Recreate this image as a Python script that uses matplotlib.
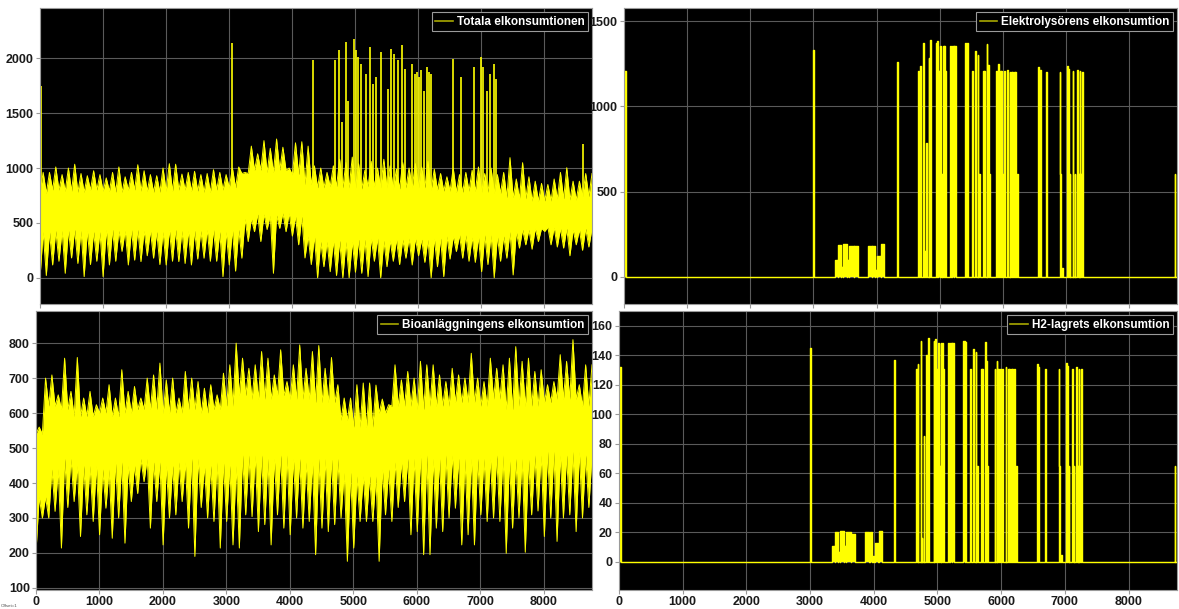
import numpy as np
import matplotlib.pyplot as plt
from matplotlib.lines import Line2D

plt.rcParams['font.family'] = ['Liberation Sans', 'DejaVu Sans']
plt.rcParams['font.weight'] = 'bold'

YEL = '#ffff00'
T_END = 8760

# --- Totala elkonsumtionen: per 100 h envelope, dense core (per 200 h), isolated peaks
tot_max = [960, 960, 1010, 940, 1000, 1035, 950, 930, 975, 940,
           910, 960, 1010, 920, 960, 1030, 975, 940, 930, 1000,
           1040, 1035, 945, 960, 970, 940, 950, 985, 960, 940,
           1000, 1010, 960, 1200, 1130, 1250, 1180, 1265, 1190, 1000,
           1230, 1240, 1200, 1020, 1000, 960, 1020, 1080, 1050, 1100,
           1040, 980, 1060, 1000, 1080, 1020, 990, 1050, 1000, 1040,
           1010, 1060, 990, 950, 920, 1000, 940, 960, 980, 1010,
           950, 1000, 940, 960, 1095, 900, 1049, 920, 880, 860,
           850, 900, 960, 1003, 880, 880, 950, 950]
tot_min = [0, 20, 116, 150, 40, 180, 130, 10, 120, 150,
           10, 116, 150, 240, 116, 160, 147, 200, 178, 120,
           116, 150, 147, 130, 116, 170, 178, 150, 150, 10,
           116, 60, 178, 330, 420, 330, 440, 40, 450, 420,
           380, 300, 180, 120, 0, 100, 55, 20, 0, 0,
           50, 40, 10, 150, 0, 100, 150, 120, 178, 116,
           200, 140, 0, 100, 10, 170, 239, 178, 150, 140,
           55, 120, 0, 150, 178, 25, 270, 300, 260, 330,
           422, 300, 280, 270, 200, 300, 250, 280]
tot_core_lo = [420, 430, 440, 430, 420, 440, 430, 440, 430, 420, 440,
               430, 430, 440, 420, 440, 540, 580, 570, 590, 560, 380,
               330, 340, 330, 350, 360, 340, 350, 360, 350, 360, 380,
               390, 370, 390, 380, 420, 440, 450, 460, 450, 440, 450]
tot_core_hi = [770, 800, 790, 780, 800, 790, 780, 800, 790, 780, 790,
               800, 790, 780, 800, 820, 950, 980, 960, 980, 940, 850,
               820, 830, 820, 810, 830, 820, 810, 820, 820, 800, 790,
               780, 790, 780, 770, 730, 720, 700, 700, 720, 710, 740]
tot_peak_t = [15, 3045, 4330, 4675, 4742, 4794, 4852, 4889, 4978, 5020,
              5046, 5088, 5177, 5230, 5282, 5335, 5413, 5518, 5571, 5613,
              5687, 5739, 5797, 5902, 5949, 5981, 6017, 6054, 6096, 6138,
              6175, 6212, 6553, 6674, 6884, 6999, 7031, 7093, 7146, 7198,
              7240, 8616]
tot_peak_v = [1750, 2140, 1982, 1982, 2073, 1416, 2150, 1615, 2180, 2073,
              2012, 1951, 1860, 2104, 1768, 1829, 2058, 1722, 2089, 2043,
              1982, 2119, 1905, 1951, 1860, 1875, 1829, 1890, 1707, 1921,
              1875, 1860, 1998, 1829, 1921, 2012, 1921, 1707, 1860, 1951,
              1814, 1217]

# --- Bioanläggningens elkonsumtion
bio_max = [560, 700, 709, 652, 757, 662, 759, 643, 662, 624,
           643, 681, 643, 724, 662, 676, 643, 700, 709, 743,
           695, 700, 643, 719, 700, 690, 671, 681, 652, 714,
           738, 800, 757, 728, 738, 776, 757, 709, 781, 690,
           738, 795, 728, 776, 793, 728, 759, 681, 643, 643,
           681, 686, 686, 680, 640, 624, 738, 695, 719, 700,
           748, 738, 738, 709, 690, 728, 709, 700, 771, 700,
           690, 757, 728, 738, 757, 790, 748, 757, 719, 724,
           681, 690, 767, 748, 810, 681, 738, 738]
bio_min = [204, 300, 300, 319, 214, 330, 347, 247, 309, 290,
           252, 328, 242, 300, 228, 347, 370, 404, 271, 347,
           223, 300, 309, 347, 271, 190, 330, 300, 290, 214,
           290, 223, 214, 309, 304, 261, 281, 223, 309, 271,
           252, 300, 271, 290, 195, 271, 261, 281, 300, 176,
           214, 290, 290, 290, 176, 309, 290, 330, 347, 252,
           261, 195, 195, 271, 261, 300, 328, 223, 252, 223,
           309, 290, 300, 290, 199, 271, 300, 202, 309, 320,
           247, 300, 233, 300, 309, 261, 300, 330]
bio_core_lo = [360, 440, 470, 450, 450, 440, 460, 450, 470, 460, 450,
               460, 470, 450, 460, 450, 480, 480, 470, 480, 470, 460,
               470, 470, 430, 420, 420, 440, 460, 470, 480, 470, 480,
               470, 470, 470, 480, 470, 470, 480, 490, 480, 490, 480]
bio_core_hi = [540, 620, 610, 590, 590, 600, 590, 600, 610, 610, 600,
               600, 610, 600, 610, 620, 650, 640, 640, 650, 640, 640,
               630, 630, 580, 560, 560, 600, 620, 620, 610, 620, 620,
               630, 630, 620, 640, 610, 620, 620, 630, 640, 640, 620]

# --- Elektrolysören / H2-lager: run periods (h) with their levels
run_start = [0, 3000,
             3345, 3390, 3445, 3475, 3535, 3570, 3645,
             3860, 3935, 3980, 4015, 4075,
             4325,
             4665, 4688, 4735, 4750, 4783, 4825, 4846,
             4940, 4955, 4978, 5003, 5030, 5050, 5065, 5090,
             5160, 5182, 5200, 5230,
             5405, 5430, 5515, 5560, 5600, 5620,
             5685, 5705, 5745, 5762, 5780,
             5895, 5930, 5950, 5975, 5995, 6015, 6070,
             6108, 6128, 6150, 6175, 6200, 6225,
             6558, 6585, 6690, 6900, 6912, 6940,
             7018, 7040, 7058, 7112, 7140,
             7182, 7200, 7218, 7240, 7260,
             8728]
run_end = [25, 3012,
           3385, 3440, 3470, 3530, 3565, 3640, 3710,
           3930, 3975, 4010, 4070, 4125,
           4337,
           4680, 4698, 4747, 4762, 4793, 4838, 4860,
           4952, 4975, 4998, 5028, 5045, 5062, 5080, 5106,
           5178, 5195, 5225, 5254,
           5425, 5450, 5522, 5575, 5612, 5635,
           5700, 5720, 5757, 5775, 5794,
           5910, 5942, 5965, 5990, 6010, 6030, 6080,
           6120, 6140, 6165, 6190, 6215, 6245,
           6570, 6598, 6698, 6908, 6920, 6950,
           7028, 7050, 7066, 7120, 7148,
           7190, 7208, 7226, 7248, 7268,
           8735]
elek_level = [1210, 1330,
              100, 185, 60, 190, 100, 180, 178,
              180, 182, 40, 120, 195,
              1260,
              1206, 1235, 1373, 150, 784, 1284, 1392,
              1373, 1386, 1206, 1353, 600, 1353, 1353, 1206,
              1353, 1206, 1353, 1353,
              1373, 1370, 1206, 1324, 1304, 600,
              1206, 1206, 1367, 1245, 600,
              1206, 1249, 1206, 1206, 600, 1206, 1216,
              1202, 1202, 1202, 1202, 1202, 600,
              1230, 1216, 1202, 1202, 600, 50,
              1236, 1220, 600, 1206, 600,
              1212, 600, 1206, 600, 1202,
              600]
h2_level = [132, 145,
            11, 20, 7, 21, 11, 20, 19,
            20, 20, 4, 13, 21,
            137,
            131, 134, 150, 16, 85, 140, 152,
            150, 151, 131, 148, 65, 148, 148, 131,
            148, 131, 148, 148,
            150, 149, 131, 144, 142, 65,
            131, 131, 149, 136, 65,
            131, 136, 131, 131, 65, 131, 132,
            131, 131, 131, 131, 131, 65,
            134, 132, 131, 131, 65, 5,
            135, 133, 65, 131, 65,
            132, 65, 131, 65, 131,
            65]


def band(ax, hi, lo, core_hi, core_lo):
    # solid core with filled teeth out to each 100 h bin's max and min
    n = len(hi)
    rep = -(-n // len(core_hi))
    chi = np.repeat(core_hi, rep)[:n]
    clo = np.repeat(core_lo, rep)[:n]
    xs = np.linspace(0, T_END, 2 * n)
    upper = np.column_stack([chi, hi]).ravel()
    lower = np.column_stack([lo, clo]).ravel()
    ax.fill_between(xs, lower, upper, color=YEL, linewidth=0)
    ax.plot(xs, upper, color=YEL, linewidth=0.7)
    ax.plot(xs, lower, color=YEL, linewidth=0.7)


def runs(starts, ends, levels):
    xs, ys = [0.0], [0.0]
    for s, e, v in zip(starts, ends, levels):
        xs += [s, s, e, e]
        ys += [0, v, v, 0]
    xs.append(T_END)
    ys.append(0)
    return np.array(xs), np.array(ys)


def style(ax, ylim, yticks, xlabels, name):
    ax.set_facecolor('black')
    ax.set_xlim(0, T_END)
    ax.set_ylim(*ylim)
    ax.set_yticks(yticks)
    ax.set_xticks(range(0, 9000, 1000))
    if not xlabels:
        ax.set_xticklabels([])
    ax.grid(True, color='#5a5a5a', linewidth=0.8)
    ax.set_axisbelow(True)
    for s in ax.spines.values():
        s.set_color('#9a9a9a')
        s.set_linewidth(0.8)
    ax.tick_params(colors='#9a9a9a', labelcolor='#1a1a1a', labelsize=9,
                   length=3, pad=1.5)
    h = Line2D([], [], color='#a8a800', linewidth=1.2)
    leg = ax.legend([h], [name], loc='upper right', fontsize=8.5,
                    facecolor='black', edgecolor='#9a9a9a', framealpha=1,
                    fancybox=False, handlelength=1.5, handletextpad=0.3,
                    borderpad=0.3, borderaxespad=0.35)
    for t in leg.get_texts():
        t.set_color('white')
    leg.get_frame().set_linewidth(0.8)


fig = plt.figure(figsize=(11.79, 6.09), dpi=100, facecolor='white')
W, H = 1179, 609


def box(l, t, r, b):
    return [l / W, 1 - b / H, (r - l) / W, (b - t) / H]


ax1 = fig.add_axes(box(40, 8, 592, 304))
ax2 = fig.add_axes(box(624, 8, 1177, 304))
ax3 = fig.add_axes(box(36, 311, 592, 590))
ax4 = fig.add_axes(box(619, 311, 1177, 590))

# total consumption
ax1.vlines(tot_peak_t, 500, tot_peak_v, color=YEL, linewidth=1.2)
band(ax1, tot_max, tot_min, tot_core_hi, tot_core_lo)
style(ax1, (-240, 2460), range(0, 2001, 500), False, 'Totala elkonsumtionen')

# electrolyser
x, y = runs(run_start, run_end, elek_level)
ax2.fill_between(x, 0, y, color=YEL, linewidth=0)
ax2.plot(x, y, color=YEL, linewidth=1.0)
style(ax2, (-160, 1577), range(0, 1501, 500), False, 'Elektrolysörens elkonsumtion')

# bio plant
band(ax3, bio_max, bio_min, bio_core_hi, bio_core_lo)
style(ax3, (94, 892), range(100, 801, 100), True, 'Bioanläggningens elkonsumtion')

# hydrogen storage
x, y = runs(run_start, run_end, h2_level)
ax4.fill_between(x, 0, y, color=YEL, linewidth=0)
ax4.plot(x, y, color=YEL, linewidth=1.0)
style(ax4, (-19, 170), range(0, 161, 20), True, 'H2-lagrets elkonsumtion')

fig.text(0.001, 0.003, 'Offset=1', fontsize=3.2, color='#505050',
         fontweight='normal')

fig.savefig('out.png', dpi=100, facecolor='white')
